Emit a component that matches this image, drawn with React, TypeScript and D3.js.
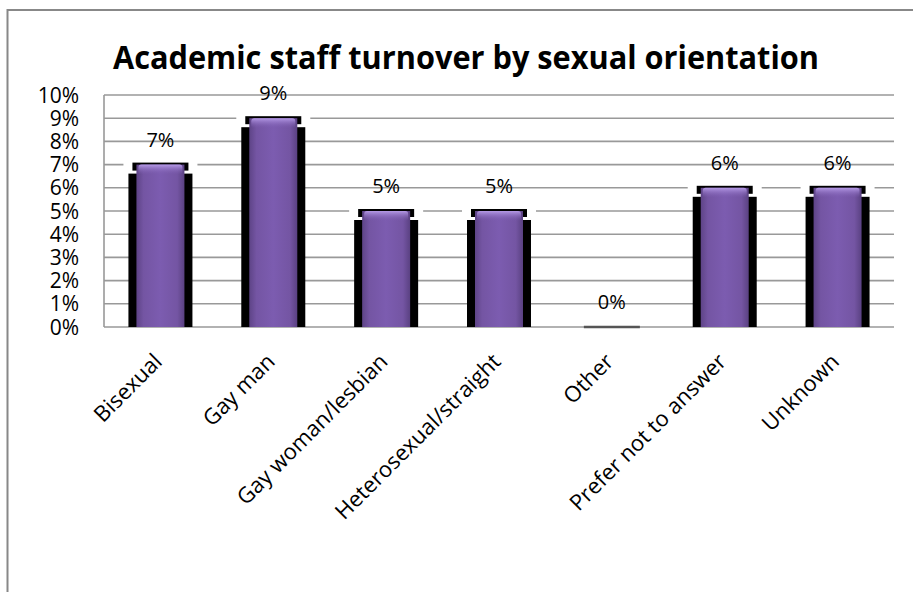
import React from "react";
import * as d3 from "d3";

const categories = [
  "Bisexual",
  "Gay man",
  "Gay woman/lesbian",
  "Heterosexual/straight",
  "Other",
  "Prefer not to answer",
  "Unknown",
];
const values = [0.07, 0.09, 0.05, 0.05, 0, 0.06, 0.06];
const yTicks = [0, 0.01, 0.02, 0.03, 0.04, 0.05, 0.06, 0.07, 0.08, 0.09, 0.1];
const title = "Academic staff turnover by sexual orientation";

const W = 913;
const H = 592;
const FONT = "'Open Sans', 'Liberation Sans', sans-serif";

export default function App() {
  const left = 104;
  const right = 894;
  const top = 95;
  const bottom = 327;
  const x = d3.scaleBand<string>().domain(categories).range([left, right]).paddingInner(0).paddingOuter(0);
  const y = d3.scaleLinear().domain([0, 0.1]).range([bottom, top]);
  const fmt = d3.format(".0%");
  const bw = 48;

  return (
    <svg width={W} height={H} style={{ position: "absolute", left: 0, top: 0, background: "#fff" }}>
      <defs>
        <linearGradient id="barGrad" x1="0" x2="1" y1="0" y2="0">
          <stop offset="0" stopColor="#5e4487" />
          <stop offset="0.15" stopColor="#7455a3" />
          <stop offset="0.5" stopColor="#7c5cb0" />
          <stop offset="0.85" stopColor="#7455a3" />
          <stop offset="1" stopColor="#5a4182" />
        </linearGradient>
        <linearGradient id="topGrad" x1="0" x2="0" y1="0" y2="1">
          <stop offset="0" stopColor="#b59ae6" />
          <stop offset="1" stopColor="#7c5cb0" stopOpacity="0" />
        </linearGradient>
      </defs>
      <rect x={0} y={0} width={W} height={H} fill="#fff" />
      {/* chart border (cropped at right/bottom) */}
      <path d={`M${W + 2},10 H7.5 V${H + 2}`} fill="none" stroke="#888" strokeWidth={2} />

      <text
        x={466}
        y={69}
        textAnchor="middle"
        fontFamily={FONT}
        fontWeight="bold"
        fontSize={33}
        textLength={706}
        lengthAdjust="spacingAndGlyphs"
        fill="#000"
      >
        {title}
      </text>

      {/* gridlines */}
      {yTicks.map((t) => (
        <line key={t} x1={left} x2={right} y1={y(t)} y2={y(t)} stroke="#999" strokeWidth={1.6} />
      ))}
      <line x1={left} x2={left} y1={top} y2={bottom} stroke="#999" strokeWidth={1.6} />

      {/* y tick labels */}
      {yTicks.map((t) => (
        <text
          key={"l" + t}
          x={79}
          y={y(t) + 7.5}
          textAnchor="end"
          fontFamily={FONT}
          fontSize={21}
          fill="#000"
        >
          {fmt(t)}
        </text>
      ))}

      {/* bars */}
      {categories.map((c, i) => {
        const cx = (x(c) as number) + x.bandwidth() / 2;
        const v = values[i];
        const yt = y(v);
        const h = bottom - yt;
        const bx = cx - bw / 2;
        return (
          <g key={c}>
            {v > 0 ? (
              <>
                <rect x={bx - 13} y={yt - 3} width={bw + 26} height={12} fill="#fff" />
                <rect x={bx - 4} y={yt - 2} width={bw + 8} height={8} fill="#000" />
                <rect x={bx - 8} y={yt + 9} width={bw + 16} height={h - 9} fill="#000" />
                <rect x={bx} y={yt} width={bw} height={h} fill="url(#barGrad)" />
                <rect x={bx + 2} y={yt} width={bw - 4} height={Math.min(10, h)} fill="url(#topGrad)" rx={3} />
              </>
            ) : (
              <line x1={bx - 4} x2={bx + bw + 4} y1={bottom} y2={bottom} stroke="#555" strokeWidth={2.5} />
            )}
            <text
              x={cx}
              y={yt - 18}
              textAnchor="middle"
              fontFamily={FONT}
              fontSize={20}
              fill="#000"
            >
              {fmt(v)}
            </text>
            <text
              transform={`translate(${cx + 3},${bottom + 36}) rotate(-45)`}
              textAnchor="end"
              fontFamily={FONT}
              fontSize={22}
              fill="#000"
            >
              {c}
            </text>
          </g>
        );
      })}
    </svg>
  );
}
